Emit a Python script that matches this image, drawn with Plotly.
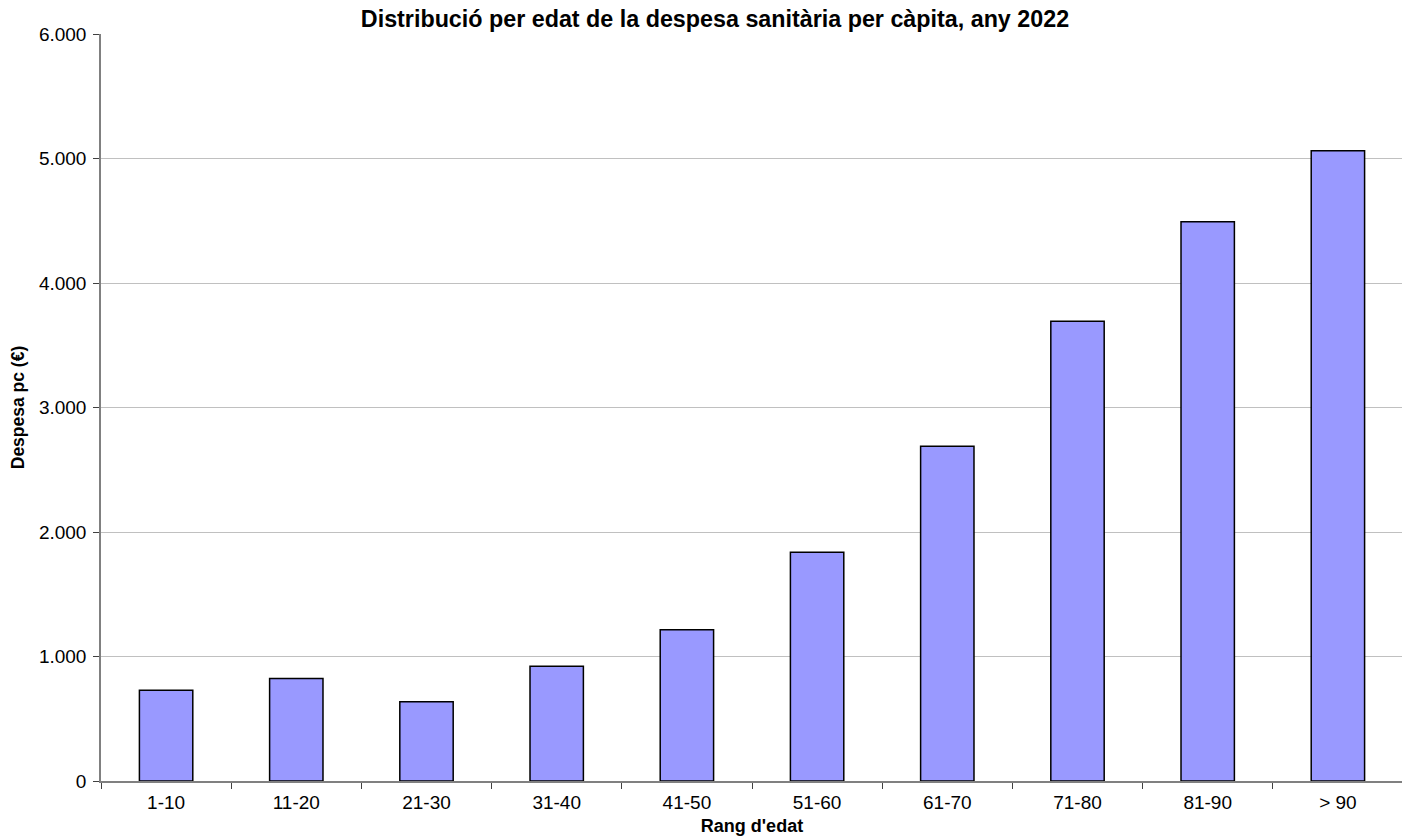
import plotly.graph_objects as go

categories = ["1-10", "11-20", "21-30", "31-40", "41-50", "51-60", "61-70", "71-80", "81-90", "> 90"]
values = [728, 824, 637, 921, 1214, 1838, 2689, 3692, 4492, 5062]
y_ticks = [0, 1000, 2000, 3000, 4000, 5000, 6000]

fig = go.Figure(go.Bar(
    x=categories, y=values,
    marker=dict(color="#9999ff", line=dict(color="#000000", width=1.5)),
    width=0.41,
))

# page body adds an 8px offset, figure sized to compensate
fig.update_layout(
    width=1402, height=830,
    margin=dict(l=93, r=7, t=26, b=57),
    paper_bgcolor="white", plot_bgcolor="white",
    separators=",.",
    font=dict(family="Liberation Sans, Arial, sans-serif", size=19, color="#000000"),
    title=dict(text="<b>Distribució per edat de la despesa sanitària per càpita, any 2022</b>",
               x=(715 - 8) / 1402, xanchor="center", xref="container",
               y=1 - 11 / 830, yref="container", yanchor="middle",
               font=dict(size=23.3)),
    showlegend=False,
)
fig.update_xaxes(
    title=dict(text="<b>Rang d'edat</b>", font=dict(size=18), standoff=8),
    automargin=False,
    showline=True, linecolor="#808080", linewidth=1.5,
    ticks="outside", tickson="boundaries", ticklen=6, tickcolor="#404040",
    ticklabelstandoff=3,
    showgrid=False, tickfont=dict(size=19),
)
fig.update_yaxes(
    title=dict(text="<b>Despesa pc (€)</b>", font=dict(size=17.5), standoff=10),
    automargin=False,
    range=[0, 6000], tickvals=y_ticks, tickformat=",d",
    showline=True, linecolor="#808080", linewidth=1.5,
    ticks="outside", ticklen=6, tickcolor="#404040",
    ticklabelstandoff=3,
    showgrid=True, gridcolor="#c0c0c0", gridwidth=1,
    zeroline=False, tickfont=dict(size=19),
)

fig.write_html("out.html")
